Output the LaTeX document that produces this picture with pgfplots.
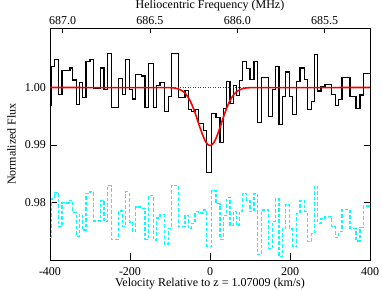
\documentclass[border=0pt]{standalone}
\usepackage{pgfplots}
\pgfplotsset{compat=1.18}
\usepackage{fontspec}
\setmainfont{Liberation Serif}
\definecolor{dotblue}{RGB}{40,40,255}
\definecolor{brightcyan}{RGB}{0,255,255}
\begin{document}
\fontsize{12}{14}\selectfont
\begin{tikzpicture}
\path[use as bounding box] (-50pt,-31pt) rectangle (332pt,260pt);
\begin{axis}[
  scale only axis, width=320pt, height=232pt,
  xmin=-400, xmax=400, ymin=0.97, ymax=1.01035,
  xtick={-400,-200,0,200,400}, ytick={0.98,0.99,1.00},
  xtick pos=left, ytick pos=both,
  tick align=inside, major tick length=6.5pt,
  every tick/.style={black, line width=0.8pt},
  axis line style={line width=0.9pt},
  scaled ticks=false,
  /pgf/number format/assume math mode=true,
  yticklabel style={/pgf/number format/.cd, fixed, fixed zerofill, precision=2},
  xticklabel style={anchor=base, yshift=-15.3pt},
  xlabel={Velocity Relative to z = 1.07009 (km/s)},
  ylabel={Normalized Flux},
  xlabel style={at={(axis description cs:0.5,-0.1121)}, anchor=base},
  ylabel style={at={(axis description cs:-0.1078,0.5)}, anchor=base},
]
\addplot[const plot, brightcyan, line width=1.3pt, dash pattern=on 3.5pt off 2pt] coordinates {
(-400,0.9739) (-397,0.9806) (-389,0.9818) (-379,0.9758) (-370,0.9800) (-361,0.9799) (-350,0.9804) (-343,0.9783) (-334,0.9741) (-327,0.9779) (-319,0.9752) (-310,0.9816) (-300,0.9819) (-291,0.9768) (-273,0.9804) (-265,0.9767) (-257,0.9829) (-246,0.9736) (-229,0.9785) (-218,0.9758) (-211,0.9819) (-202,0.9766) (-194,0.9750) (-186,0.9792) (-171,0.9790) (-162.5,0.9736) (-154,0.9812) (-141,0.9735) (-133,0.9773) (-125,0.9779) (-114,0.9728) (-104,0.9755) (-96,0.9830) (-79,0.9758) (-62.5,0.9778) (-54,0.9755) (-46,0.9764) (-37.5,0.9784) (-29,0.9782) (-17,0.9787) (-8,0.9723) (4,0.9821) (15,0.9798) (25,0.9736) (33,0.9777) (42,0.9809) (50,0.9760) (58,0.9784) (66,0.9761) (74,0.9785) (82,0.9816) (92,0.9803) (100,0.9784) (110,0.9816) (119,0.9709) (129,0.9787) (146,0.9720) (156,0.9767) (164,0.9807) (172.5,0.9706) (181,0.9755) (189,0.9797) (198,0.9754) (207,0.9723) (217,0.9781) (225,0.9804) (236,0.9784) (244,0.9732) (254,0.9746) (261,0.9828) (269,0.9764) (277.5,0.9772) (287.5,0.9776) (304,0.9758) (313,0.9739) (322,0.9749) (330,0.9788) (350,0.9755) (365,0.9733) (375,0.9757) (383,0.9794) (400,0.9794)
};
\addplot[const plot, black, line width=1.1pt] coordinates {
(-400,0.9969) (-397,1.0036) (-389,1.0048) (-379,0.9988) (-370,1.0030) (-361,1.0029) (-350,1.0034) (-343,1.0013) (-334,0.9971) (-327,1.0009) (-319,0.9982) (-310,1.0046) (-300,1.0049) (-291,0.9998) (-273,1.0034) (-265,0.9997) (-257,1.0059) (-246,0.9966) (-229,1.0015) (-218,0.9988) (-211,1.0049) (-202,0.9996) (-194,0.9980) (-186,1.0022) (-171,1.0020) (-162.5,0.9966) (-154,1.0042) (-141,0.9965) (-133,1.0003) (-125,1.0009) (-114,0.9958) (-104,0.9985) (-96,1.0059) (-79,0.9983) (-62.5,0.9995) (-54,0.9962) (-46,0.9958) (-37.5,0.9962) (-29,0.9938) (-17,0.9925) (-8,0.9852) (4,0.9955) (15,0.9948) (25,0.9905) (33,0.9963) (42,1.0010) (50,0.9972) (58,1.0004) (66,0.9986) (74,1.0012) (82,1.0045) (92,1.0033) (100,1.0014) (110,1.0046) (119,0.9939) (129,1.0017) (146,0.9950) (156,0.9997) (164,1.0037) (172.5,0.9936) (181,0.9985) (189,1.0027) (198,0.9984) (207,0.9953) (217,1.0011) (225,1.0034) (236,1.0014) (244,0.9962) (254,0.9976) (261,1.0058) (269,0.9994) (277.5,1.0002) (287.5,1.0006) (304,0.9988) (313,0.9969) (322,0.9979) (330,1.0018) (350,0.9985) (365,0.9963) (375,0.9987) (383,1.0024) (400,1.0024)
};
\addplot[red, line width=1.6pt] coordinates {
(-400,1) (-100,0.99997) (-90,0.99992) (-80,0.99977) (-70,0.99945) (-65,0.99918) (-60,0.99881) (-55,0.99833) (-50,0.99772) (-45,0.99697) (-40,0.99610) (-35,0.99512) (-30,0.99409) (-25,0.99303) (-20,0.99204) (-15,0.99116) (-10,0.99048) (-5,0.99005) (0,0.98990) (5,0.99005) (10,0.99048) (15,0.99116) (20,0.99204) (25,0.99303) (30,0.99409) (35,0.99512) (40,0.99610) (45,0.99697) (50,0.99772) (55,0.99833) (60,0.99881) (65,0.99918) (70,0.99945) (80,0.99977) (90,0.99992) (100,0.99997) (400,1)
};
\addplot[dotblue, line width=0.9pt, dash pattern=on 1pt off 1.5pt] coordinates {(-400,1) (400,1)};
\end{axis}
\begin{axis}[
  scale only axis, width=320pt, height=232pt,
  xmin=685.2410, xmax=687.0720, x dir=reverse,
  ymin=0, ymax=1,
  axis x line*=top, axis y line=none,
  xtick={685.5,686,686.5,687},
  tick align=inside, major tick length=5.5pt,
  every tick/.style={black, line width=0.8pt},
  axis line style={line width=0.9pt},
  scaled ticks=false,
  /pgf/number format/assume math mode=true,
  xticklabel style={anchor=base, yshift=3pt, /pgf/number format/.cd, fixed, fixed zerofill, precision=1},
  title={Heliocentric Frequency (MHz)},
  title style={at={(axis description cs:0.5,1.0603)}, anchor=base},
]
\end{axis}
\end{tikzpicture}
\end{document}
